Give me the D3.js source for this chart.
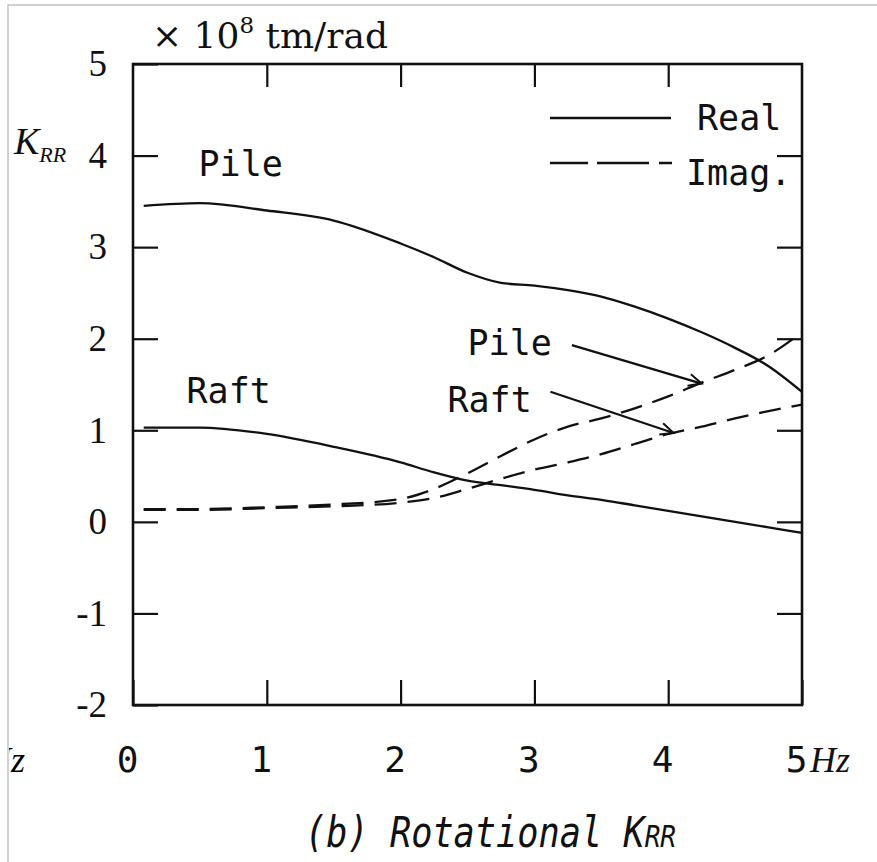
<!DOCTYPE html>
<html>
<head>
<meta charset="utf-8">
<script src="https://cdn.jsdelivr.net/npm/d3@7"></script>
<style>
  body { margin: 0; background: #fff; }
</style>
</head>
<body>
<div class="canvas"></div>
<script>
// frequencies (Hz) the curves were read at
const hz = [0.08, 0.5, 1.0, 1.5, 2.0, 2.25, 2.5, 2.75, 3.0, 3.25, 3.5, 3.75, 4.0, 4.25, 4.5, 4.75, 5.0];

// K_RR values (x 10^8 tm/rad)
const pileReal = [3.45, 3.48, 3.40, 3.29, 3.04, 2.89, 2.72, 2.61, 2.58, 2.53, 2.46, 2.35, 2.22, 2.07, 1.90, 1.70, 1.42];
const raftReal = [1.03, 1.03, 0.96, 0.82, 0.65, 0.54, 0.45, 0.40, 0.35, 0.29, 0.24, 0.18, 0.12, 0.06, 0.00, -0.06, -0.12];
const pileImag = [0.14, 0.14, 0.16, 0.19, 0.25, 0.36, 0.53, 0.72, 0.90, 1.04, 1.13, 1.24, 1.37, 1.52, 1.66, 1.82, 2.07];
const raftImag = [0.13, 0.13, 0.15, 0.17, 0.21, 0.26, 0.36, 0.47, 0.57, 0.65, 0.74, 0.85, 0.96, 1.04, 1.13, 1.21, 1.28];

// tick labels
const xTicks = [0, 1, 2, 3, 4, 5];
const yTicks = [-2, -1, 0, 1, 2, 3, 4, 5];

// chart dimensions (pixel box of the frame)
const dims = {width: 877, height: 862, left: 133, right: 802, top: 64, bottom: 705};

const svg = d3.select('.canvas')
    .append('svg')
    .attr('width', dims.width)
    .attr('height', dims.height);

// scales
const x = d3.scaleLinear().domain([0, 5]).range([dims.left, dims.right]);
const y = d3.scaleLinear().domain([-2, 5]).range([dims.bottom, dims.top]);

// scan edge of the page
svg.append('path')
    .attr('d', `M8,${dims.height} V5 H${dims.width}`)
    .attr('fill', 'none')
    .attr('stroke', '#c4c4c4')
    .attr('stroke-width', 1.5);

// clipped "Hz" left over from the neighbouring panel
svg.append('clipPath').attr('id', 'edge')
    .append('rect').attr('x', 9).attr('y', 0).attr('width', 60).attr('height', dims.height);
svg.append('text')
    .attr('clip-path', 'url(#edge)')
    .attr('x', 25).attr('y', 772)
    .attr('text-anchor', 'end')
    .attr('font-family', 'Liberation Serif')
    .attr('font-style', 'italic')
    .attr('font-size', 36)
    .text('Hz');

// axes with inward ticks
const axisStyle = g => {
    g.select('.domain').remove();
    g.selectAll('line').attr('stroke', '#111').attr('stroke-width', 2.2);
};

svg.append('g')
    .attr('transform', `translate(${dims.left},0)`)
    .call(d3.axisLeft(y).tickValues(yTicks).tickSizeInner(-25).tickSizeOuter(0).tickPadding(26).tickFormat(d => String(d)))
    .call(axisStyle)
    .call(g => g.selectAll('text')
        .attr('font-family', 'Liberation Serif')
        .attr('font-size', 37)
        .attr('fill', '#111'));

svg.append('g')
    .attr('transform', `translate(${dims.right},0)`)
    .call(d3.axisRight(y).tickValues(yTicks.slice(1, -1)).tickSizeInner(-25).tickSizeOuter(0).tickFormat(''))
    .call(axisStyle);

svg.append('g')
    .attr('transform', `translate(0,${dims.bottom})`)
    .call(d3.axisBottom(x).tickValues(xTicks).tickSizeInner(-25).tickSizeOuter(0).tickPadding(41).tickFormat(d => String(d)))
    .call(axisStyle)
    .call(g => g.selectAll('text')
        .attr('dx', -6)
        .attr('font-family', 'DejaVu Sans Mono')
        .attr('font-size', 36)
        .attr('fill', '#111'));

svg.append('g')
    .attr('transform', `translate(0,${dims.top})`)
    .call(d3.axisTop(x).tickValues(xTicks.slice(1, -1)).tickSizeInner(-23).tickSizeOuter(0).tickFormat(''))
    .call(axisStyle);

// frame
svg.append('rect')
    .attr('x', x(0)).attr('y', y(5))
    .attr('width', x(5) - x(0)).attr('height', y(-2) - y(5))
    .attr('fill', 'none')
    .attr('stroke', '#111')
    .attr('stroke-width', 2.6);

// unit text above the frame
const unit = svg.append('text')
    .attr('x', 152).attr('y', 48)
    .attr('font-family', 'DejaVu Serif')
    .attr('font-size', 36)
    .attr('fill', '#111');
unit.append('tspan').text('\u00d7 10');
unit.append('tspan').attr('font-size', 23).attr('dy', -15).text('8');
unit.append('tspan').attr('dy', 15).text(' tm/rad');

// y label K_RR
const ylab = svg.append('text')
    .attr('x', 14).attr('y', 154)
    .attr('font-family', 'Liberation Serif')
    .attr('font-style', 'italic')
    .attr('font-size', 38)
    .attr('fill', '#111');
ylab.append('tspan').text('K');
ylab.append('tspan').attr('font-size', 22).attr('dy', 8).text('RR');

// right "Hz"
svg.append('text')
    .attr('x', 810).attr('y', 772)
    .attr('font-family', 'Liberation Serif')
    .attr('font-style', 'italic')
    .attr('font-size', 36)
    .attr('fill', '#111')
    .text('Hz');

// curves
const line = vals => d3.line()
    .x((d, i) => x(hz[i]))
    .y(d => y(d))
    .curve(d3.curveMonotoneX)(vals);

const series = [
    {vals: pileReal, dash: null},
    {vals: raftReal, dash: null},
    {vals: pileImag, dash: '22,11'},
    {vals: raftImag, dash: '22,11'}
];

svg.append('g').selectAll('path')
    .data(series)
    .enter().append('path')
    .attr('d', d => line(d.vals))
    .attr('fill', 'none')
    .attr('stroke', '#111')
    .attr('stroke-width', 2.3)
    .attr('stroke-dasharray', d => d.dash);

// legend
const legend = svg.append('g');
legend.append('line').attr('x1', 550).attr('x2', 671).attr('y1', 118).attr('y2', 118)
    .attr('stroke', '#111').attr('stroke-width', 2.3);
legend.append('line').attr('x1', 550).attr('x2', 672).attr('y1', 163).attr('y2', 163)
    .attr('stroke', '#111').attr('stroke-width', 2.3).attr('stroke-dasharray', '38,9,52,10,14');
legend.append('text').attr('x', 697).attr('y', 130).text('Real');
legend.append('text').attr('x', 686).attr('y', 185).text('Imag.');
legend.selectAll('text')
    .attr('font-family', 'DejaVu Sans Mono')
    .attr('font-size', 35)
    .attr('fill', '#111');

// curve labels (in data units)
const labelText = ['Pile', 'Raft', 'Pile', 'Raft'];
const labelHz = [0.49, 0.40, 2.50, 2.35];
const labelK = [3.78, 1.30, 1.82, 1.20];

svg.append('g').selectAll('text')
    .data(labelText)
    .enter().append('text')
    .attr('x', (d, i) => x(labelHz[i]))
    .attr('y', (d, i) => y(labelK[i]))
    .attr('font-family', 'DejaVu Sans Mono')
    .attr('font-size', 35)
    .attr('fill', '#111')
    .text(d => d);

// arrows from the middle labels to the imaginary curves
svg.append('defs').append('marker')
    .attr('id', 'head')
    .attr('markerUnits', 'userSpaceOnUse')
    .attr('markerWidth', 20).attr('markerHeight', 20)
    .attr('refX', 14).attr('refY', 7)
    .attr('orient', 'auto')
    .append('path')
    .attr('d', 'M1,1 L14,7 L1,13')
    .attr('fill', 'none')
    .attr('stroke', '#111')
    .attr('stroke-width', 2);

const arrowFrom = [[3.28, 1.93], [3.12, 1.42]];
const arrowTo = [[4.25, 1.51], [4.04, 0.97]];

svg.append('g').selectAll('line')
    .data(arrowFrom)
    .enter().append('line')
    .attr('x1', d => x(d[0])).attr('y1', d => y(d[1]))
    .attr('x2', (d, i) => x(arrowTo[i][0])).attr('y2', (d, i) => y(arrowTo[i][1]))
    .attr('stroke', '#111')
    .attr('stroke-width', 2.2)
    .attr('marker-end', 'url(#head)');

// caption, tall and narrow like the typewriter original
const cap = svg.append('text')
    .attr('transform', 'translate(305,847) scale(0.84,1)')
    .attr('font-family', 'DejaVu Sans Mono')
    .attr('font-style', 'italic')
    .attr('font-size', 42)
    .attr('fill', '#111');
cap.append('tspan').text('(b) Rotational K');
cap.append('tspan').attr('font-size', 31).text('RR');
</script>
</body>
</html>
